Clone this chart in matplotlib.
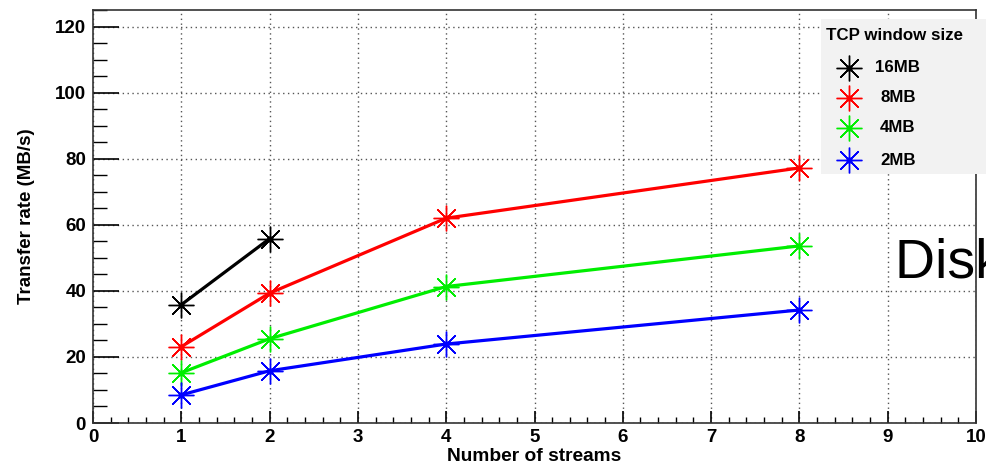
import matplotlib
matplotlib.use("Agg")
import matplotlib.pyplot as plt
from matplotlib.lines import Line2D
from matplotlib.patches import Rectangle
from matplotlib.ticker import MultipleLocator

plt.rcParams['font.family'] = ['Liberation Sans', 'DejaVu Sans']

# streams vs transfer rate (MB/s), one series per TCP window size
streams_16 = [1, 2]
rate_16 = [35.8, 55.8]
streams = [1, 2, 4, 8]
rate_8 = [23.1, 39.3, 62.0, 77.2]
rate_4 = [15.2, 25.5, 41.3, 53.6]
rate_2 = [8.5, 15.8, 23.9, 34.2]

labels = ['16MB', '8MB', '4MB', '2MB']
colors = ['black', '#ff0000', '#00ee00', '#0000ff']

W, H = 986, 465
fig = plt.figure(figsize=(W / 100, H / 100), dpi=100)
ax = fig.add_axes([93 / W, 1 - 423 / H, (976 - 93) / W, (423 - 10) / H])

star = (8, 2, 0)
series = [(streams_16, rate_16), (streams, rate_8), (streams, rate_4), (streams, rate_2)]
for (xs, ys), c in zip(series, colors):
    ax.plot(xs, ys, color=c, lw=2.3, marker=star, ms=18.5, mew=1.0, zorder=3)
    ax.plot(xs, ys, ls='none', marker='o', ms=3.5, color=c, zorder=4)

ax.set_xlim(0, 10)
ax.set_ylim(0, 125)
ax.xaxis.set_major_locator(MultipleLocator(1))
ax.xaxis.set_minor_locator(MultipleLocator(0.2))
ax.yaxis.set_major_locator(MultipleLocator(20))
ax.yaxis.set_minor_locator(MultipleLocator(5))
ax.tick_params(axis='x', which='major', direction='in', length=9, width=1.2, pad=4)
ax.tick_params(axis='x', which='minor', direction='in', length=4.5, width=1.0)
ax.tick_params(axis='y', which='major', direction='in', length=19, width=1.2, pad=5)
ax.tick_params(axis='y', which='minor', direction='in', length=10, width=1.0)
for lab in ax.get_xticklabels() + ax.get_yticklabels():
    lab.set_fontweight('bold')
    lab.set_fontsize(13.5)
ax.grid(True, which='major', color='#555555', ls=(0, (1, 2.5)), lw=1.0)
for s in ax.spines.values():
    s.set_linewidth(1.2)
    s.set_color('#333333')

ax.set_xlabel('Number of streams', fontsize=13.8, fontweight='bold', labelpad=2)
ax.set_ylabel('Transfer rate (MB/s)', fontsize=13.5, fontweight='bold', labelpad=14)

# legend box drawn by hand, ROOT style
fig.add_artist(Rectangle((821 / W, 1 - 174 / H), 200 / W, (174 - 19) / H,
                         transform=fig.transFigure, facecolor='#f2f2f2',
                         edgecolor='none', zorder=5))
fig.text(826 / W, 1 - 35 / H, 'TCP window size', fontsize=12.2, fontweight='bold',
         va='center', ha='left', zorder=6)
rows = [68, 98, 128, 160]
for lab, c, yy in zip(labels, colors, rows):
    fig.add_artist(Line2D([849 / W], [1 - yy / H], transform=fig.transFigure,
                          marker=star, ms=18.5, mew=1.0, color=c, ls='none', zorder=6))
    fig.add_artist(Line2D([849 / W], [1 - yy / H], transform=fig.transFigure,
                          marker='o', ms=3.5, color=c, ls='none', zorder=6))
    fig.text(898 / W, 1 - yy / H, lab, fontsize=12.2, fontweight='bold',
             va='center', ha='center', zorder=6)

fig.text(895 / W, 1 - 263 / H, 'Disk to disk', fontsize=40, va='center', ha='left')

fig.savefig('out.png', dpi=100)
